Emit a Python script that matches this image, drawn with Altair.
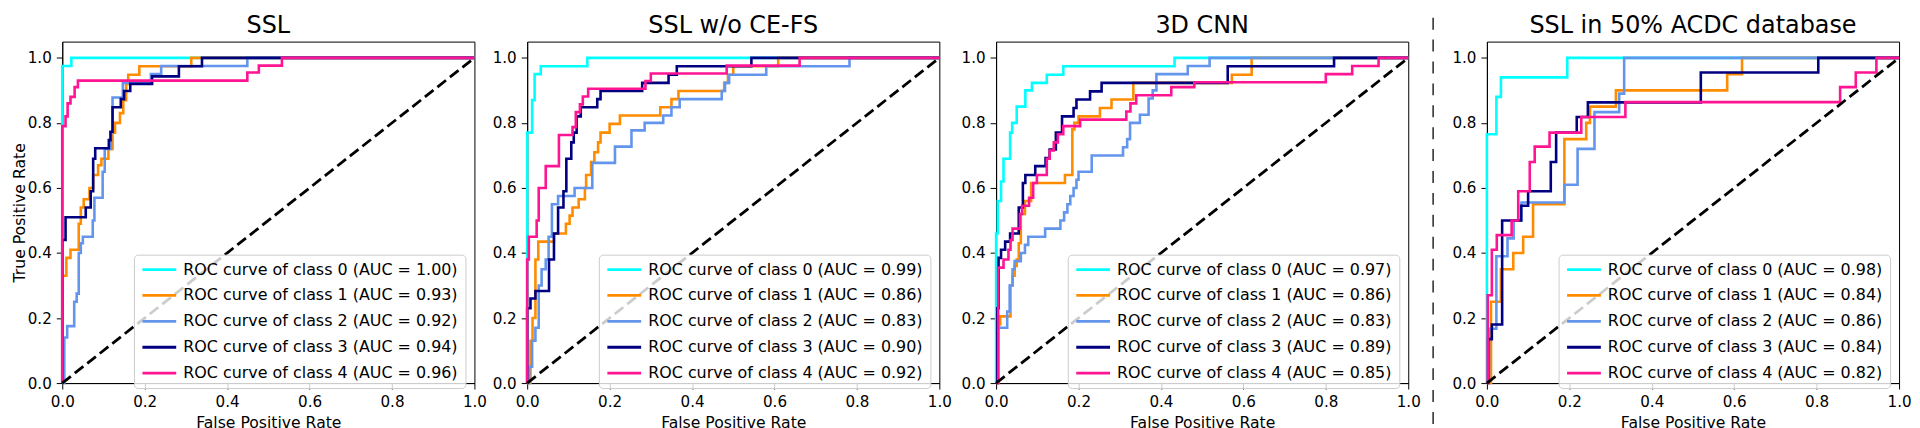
import altair as alt
import pandas as pd

# ---------------- data ----------------
TITLES = ["SSL", "SSL w/o CE-FS", "3D CNN", "SSL in 50% ACDC database"]
CLASS_COLORS = ["#00ffff", "#ff8c00", "#6495ed", "#000080", "#ff1493"]
TICKS = [0.0, 0.2, 0.4, 0.6, 0.8, 1.0]

AUC_SSL = [1.00, 0.93, 0.92, 0.94, 0.96]
AUC_NOCEFS = [0.99, 0.86, 0.83, 0.90, 0.92]
AUC_CNN = [0.97, 0.86, 0.83, 0.89, 0.85]
AUC_HALF = [0.98, 0.84, 0.86, 0.84, 0.82]

# ROC vertices (step-after: each point starts a horizontal run at its TPR level)
SSL_FPR = [
    [0, 0, 0.022, 1],
    [0, 0, 0.01, 0.02, 0.04, 0.045, 0.052, 0.066, 0.075, 0.087, 0.095, 0.112, 0.122, 0.128, 0.14, 0.148, 0.155, 0.16, 0.187, 0.313, 1],
    [0, 0.005, 0.012, 0.029, 0.035, 0.04, 0.045, 0.05, 0.074, 0.078, 0.098, 0.103, 0.118, 0.122, 0.147, 0.215, 0.24, 0.449, 1],
    [0, 0, 0.008, 0.057, 0.069, 0.075, 0.08, 0.113, 0.117, 0.122, 0.142, 0.15, 0.165, 0.218, 0.283, 0.339, 1],
    [0, 0, 0.008, 0.013, 0.02, 0.03, 0.038, 0.449, 0.477, 0.533, 1],
]
SSL_TPR = [
    [0, 0.975, 1, 1],
    [0, 0.33, 0.385, 0.41, 0.49, 0.54, 0.565, 0.6, 0.64, 0.67, 0.69, 0.72, 0.77, 0.8, 0.83, 0.87, 0.92, 0.948, 0.974, 1, 1],
    [0, 0.14, 0.175, 0.25, 0.275, 0.4, 0.43, 0.45, 0.5, 0.57, 0.65, 0.72, 0.77, 0.878, 0.923, 0.95, 0.975, 1, 1],
    [0, 0.44, 0.51, 0.54, 0.59, 0.69, 0.722, 0.747, 0.773, 0.848, 0.873, 0.898, 0.92, 0.943, 0.974, 1, 1],
    [0, 0.79, 0.82, 0.86, 0.88, 0.91, 0.93, 0.955, 0.976, 1, 1],
]

NOCEFS_FPR = [
    [0, 0, 0.012, 0.018, 0.033, 0.146, 1],
    [0, 0.008, 0.013, 0.02, 0.027, 0.065, 0.094, 0.103, 0.11, 0.125, 0.14, 0.143, 0.155, 0.163, 0.172, 0.178, 0.2, 0.225, 0.323, 0.35, 0.367, 0.478, 0.487, 0.5, 0.609, 1],
    [0, 0.005, 0.012, 0.02, 0.028, 0.035, 0.045, 0.052, 0.06, 0.075, 0.115, 0.158, 0.213, 0.253, 0.285, 0.33, 0.35, 0.37, 0.472, 0.48, 0.49, 0.58, 0.782, 1],
    [0, 0, 0.008, 0.02, 0.053, 0.065, 0.075, 0.088, 0.095, 0.107, 0.113, 0.12, 0.13, 0.17, 0.178, 0.279, 0.343, 0.363, 0.544, 1],
    [0, 0, 0.004, 0.023, 0.028, 0.045, 0.077, 0.11, 0.118, 0.128, 0.135, 0.148, 0.287, 0.3, 0.484, 0.661, 1],
]
NOCEFS_TPR = [
    [0, 0.77, 0.87, 0.95, 0.974, 1, 1],
    [0, 0.13, 0.2, 0.38, 0.435, 0.46, 0.49, 0.515, 0.54, 0.565, 0.6, 0.64, 0.68, 0.71, 0.74, 0.77, 0.797, 0.823, 0.848, 0.873, 0.898, 0.923, 0.948, 0.974, 1, 1],
    [0, 0.05, 0.13, 0.17, 0.3, 0.35, 0.38, 0.45, 0.55, 0.575, 0.6, 0.677, 0.727, 0.777, 0.8, 0.823, 0.848, 0.873, 0.898, 0.923, 0.948, 0.974, 1, 1],
    [0, 0.23, 0.26, 0.283, 0.38, 0.46, 0.54, 0.59, 0.69, 0.74, 0.77, 0.82, 0.848, 0.873, 0.898, 0.923, 0.948, 0.974, 1, 1],
    [0, 0.38, 0.45, 0.5, 0.6, 0.667, 0.763, 0.787, 0.833, 0.857, 0.881, 0.905, 0.929, 0.952, 0.976, 1, 1],
]

CNN_FPR = [
    [0, 0, 0.004, 0.012, 0.018, 0.034, 0.039, 0.05, 0.071, 0.087, 0.123, 0.163, 0.433, 1],
    [0, 0.005, 0.01, 0.035, 0.04, 0.045, 0.05, 0.055, 0.06, 0.07, 0.085, 0.167, 0.185, 0.19, 0.2, 0.252, 0.28, 0.333, 0.572, 0.62, 1],
    [0, 0.005, 0.027, 0.033, 0.04, 0.045, 0.06, 0.07, 0.078, 0.119, 0.156, 0.165, 0.173, 0.18, 0.188, 0.195, 0.2, 0.232, 0.308, 0.318, 0.325, 0.349, 0.37, 0.38, 0.389, 0.465, 0.518, 1],
    [0, 0.003, 0.006, 0.012, 0.022, 0.034, 0.055, 0.065, 0.071, 0.095, 0.12, 0.13, 0.145, 0.16, 0.188, 0.195, 0.228, 0.256, 0.562, 0.82, 1],
    [0, 0.005, 0.018, 0.03, 0.035, 0.04, 0.058, 0.063, 0.08, 0.09, 0.099, 0.123, 0.13, 0.14, 0.15, 0.163, 0.204, 0.316, 0.326, 0.34, 0.425, 0.481, 0.8, 0.864, 0.928, 1],
]
CNN_TPR = [
    [0, 0.46, 0.56, 0.62, 0.69, 0.77, 0.8, 0.85, 0.9, 0.923, 0.948, 0.974, 1, 1],
    [0, 0.18, 0.205, 0.3, 0.33, 0.36, 0.38, 0.43, 0.52, 0.56, 0.615, 0.64, 0.78, 0.8, 0.82, 0.846, 0.872, 0.923, 0.948, 1, 1],
    [0, 0.17, 0.22, 0.3, 0.35, 0.375, 0.4, 0.425, 0.45, 0.475, 0.5, 0.525, 0.55, 0.575, 0.6, 0.625, 0.65, 0.7, 0.725, 0.75, 0.8, 0.825, 0.875, 0.9, 0.95, 0.975, 1, 1],
    [0, 0.23, 0.385, 0.41, 0.435, 0.46, 0.54, 0.615, 0.64, 0.667, 0.692, 0.718, 0.77, 0.82, 0.846, 0.872, 0.897, 0.923, 0.974, 1, 1],
    [0, 0.355, 0.38, 0.41, 0.44, 0.475, 0.52, 0.545, 0.57, 0.615, 0.64, 0.69, 0.715, 0.74, 0.765, 0.79, 0.81, 0.835, 0.86, 0.885, 0.91, 0.925, 0.95, 0.975, 1, 1],
]

HALF_FPR = [
    [0, 0, 0.023, 0.034, 0.195, 1],
    [0, 0.01, 0.034, 0.064, 0.088, 0.112, 0.188, 0.241, 0.25, 0.313, 0.583, 0.619, 1],
    [0, 0.005, 0.023, 0.05, 0.065, 0.084, 0.188, 0.22, 0.261, 0.321, 0.333, 1],
    [0, 0.003, 0.012, 0.037, 0.083, 0.1, 0.155, 0.168, 0.218, 0.245, 0.519, 0.804, 1],
    [0, 0.002, 0.012, 0.024, 0.06, 0.076, 0.104, 0.116, 0.152, 0.229, 0.336, 0.857, 0.895, 0.945, 1],
]
HALF_TPR = [
    [0, 0.765, 0.88, 0.94, 1, 1],
    [0, 0.25, 0.35, 0.4, 0.45, 0.55, 0.75, 0.8, 0.85, 0.9, 0.95, 1, 1],
    [0, 0.167, 0.39, 0.445, 0.5, 0.555, 0.61, 0.72, 0.833, 0.89, 1, 1],
    [0, 0.135, 0.18, 0.5, 0.545, 0.59, 0.68, 0.77, 0.818, 0.863, 0.955, 1, 1],
    [0, 0.27, 0.41, 0.455, 0.5, 0.59, 0.68, 0.727, 0.77, 0.818, 0.864, 0.91, 0.955, 1, 1],
]

DIAG_X = [0, 1]
DIAG_Y = [0, 1]

PANELS = [
    (TITLES[0], SSL_FPR, SSL_TPR, AUC_SSL),
    (TITLES[1], NOCEFS_FPR, NOCEFS_TPR, AUC_NOCEFS),
    (TITLES[2], CNN_FPR, CNN_TPR, AUC_CNN),
    (TITLES[3], HALF_FPR, HALF_TPR, AUC_HALF),
]

PLOT_W, PLOT_H = 414, 343
GAPS = [53, 57, 79]
SEP_X = 25
LEGEND_X, LEGEND_Y = 72, 214


def make_panel(k, title, fprs, tprs, aucs):
    labels = [f"ROC curve of class {c} (AUC = {aucs[c]:.2f})" for c in range(5)]
    rows = []
    for c in range(5):
        for i, (x, y) in enumerate(zip(fprs[c], tprs[c])):
            rows.append({"fpr": x, "tpr": y, "label": labels[c], "i": i})
    df = pd.DataFrame(rows)

    xs = alt.Scale(domain=[0, 1], nice=False, zero=False)
    ys = alt.Scale(domain=[0, 1.05], nice=False, zero=False)
    xa = alt.Axis(values=TICKS, format=".1f", title="False Positive Rate")
    if k == 0:
        ya = alt.Axis(values=TICKS, format=".1f", title="True Positive Rate")
    else:
        ya = alt.Axis(values=TICKS, format=".1f", title=None)

    curves = alt.Chart(df).mark_line(
        strokeWidth=2.6, interpolate="step-after", strokeJoin="miter"
    ).encode(
        x=alt.X("fpr:Q", scale=xs, axis=xa),
        y=alt.Y("tpr:Q", scale=ys, axis=ya),
        color=alt.Color(
            "label:N",
            sort=labels,
            scale=alt.Scale(domain=labels, range=CLASS_COLORS),
            legend=alt.Legend(
                orient="none", legendX=LEGEND_X, legendY=LEGEND_Y, title=None,
                labelFont="DejaVu Sans", labelFontSize=16, labelColor="black",
                labelLimit=600, symbolType="M-3,0H3", symbolSize=128,
                symbolStrokeWidth=2.8, symbolOffset=10.5, labelOffset=16,
                padding=7, rowPadding=10,
                fillColor="rgba(255,255,255,0.8)", strokeColor="#cccccc",
                cornerRadius=4,
            ),
        ),
        order=alt.Order("i:Q"),
    )

    diag = alt.Chart(pd.DataFrame({"fpr": DIAG_X, "tpr": DIAG_Y})).mark_line(
        color="black", strokeWidth=2.8, strokeDash=[11, 5]
    ).encode(
        x=alt.X("fpr:Q", scale=xs, axis=xa),
        y=alt.Y("tpr:Q", scale=ys, axis=ya),
    )
    return alt.layer(curves, diag).properties(
        width=PLOT_W, height=PLOT_H, title=title
    )


def spacer(w, with_sep=False):
    base = alt.Chart(pd.DataFrame({"a": [0]}))
    if with_sep:
        m = base.mark_rule(color="#404040", strokeWidth=1.7, strokeDash=[12, 10]).encode(
            x=alt.value(SEP_X), y=alt.value(-24), y2=alt.value(390)
        )
    else:
        m = base.mark_point(opacity=0).encode(x=alt.value(0), y=alt.value(0))
    return m.properties(width=w, height=PLOT_H, view=alt.ViewBackground(stroke="transparent"))


panels = [make_panel(k, *p) for k, p in enumerate(PANELS)]
chart = alt.hconcat(
    panels[0], spacer(GAPS[0]), panels[1], spacer(GAPS[1]), panels[2],
    spacer(GAPS[2], True), panels[3],
    spacing=0, bounds="flush",
).resolve_scale(color="independent").resolve_legend(color="independent").properties(
    padding={"left": 2.5, "top": 3.8, "right": 0, "bottom": 0}
).configure_view(
    stroke="black", strokeWidth=1
).configure_axis(
    labelFont="DejaVu Sans", labelFontSize=15.2, labelColor="black",
    titleFont="DejaVu Sans", titleFontSize=15.7, titleFontWeight="normal", titleColor="black",
    tickColor="black", domainColor="black", grid=False, tickSize=6, labelPadding=6,
    labelFlush=False, labelOverlap=False,
).configure_axisY(titlePadding=0, labelPadding=5).configure_axisX(titlePadding=5).configure_title(
    font="DejaVu Sans", fontSize=24, fontWeight="normal", color="black", anchor="middle", offset=0
)

chart.save("out.html", embed_options={"renderer": "svg", "actions": False})
